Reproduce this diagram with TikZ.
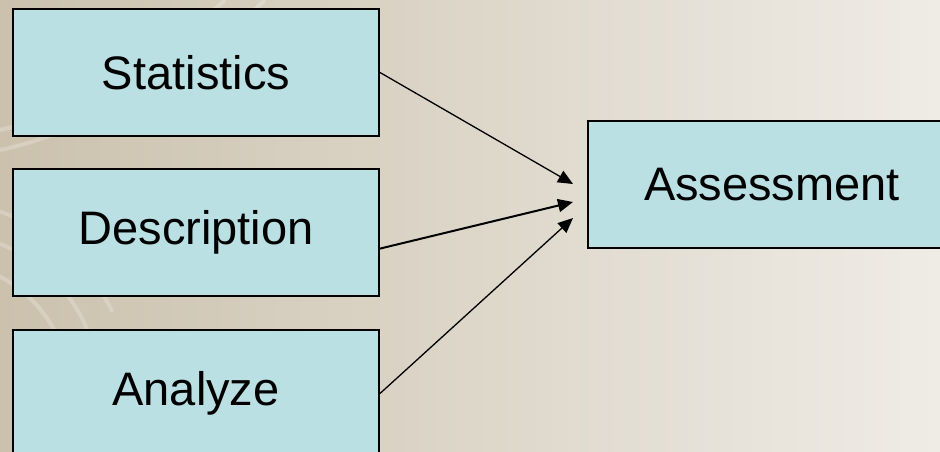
\documentclass[tikz,border=0pt]{standalone}
\usepackage{fontspec}
\setmainfont{Liberation Sans}
\usetikzlibrary{positioning,arrows.meta}

\definecolor{boxfill}{RGB}{186,224,228}
\definecolor{bgleft}{RGB}{203,193,173}
\definecolor{bgright}{RGB}{239,236,230}

\tikzset{
	box/.style={draw=black, line width=2pt, fill=boxfill, rectangle,
		minimum width=366pt, minimum height=127pt, inner sep=0pt,
		font=\fontsize{47}{56}\selectfont},
	link/.style={-{Triangle[length=15pt,width=13pt]}, line width=1.3pt},
	swirl/.style={white, opacity=0.22, line width=4pt}
}

\begin{document}
\begin{tikzpicture}[x=1pt, y=1pt]
			% background
			\shade[left color=bgleft, right color=bgright] (0,0) rectangle (940,452);
			\useasboundingbox (0,0) rectangle (940,452);
			\draw[swirl] (0,302) .. controls (90,320) and (200,390) .. (265,452);
			\draw[swirl] (0,322) .. controls (80,340) and (170,400) .. (225,452);
			\draw[swirl] (-60,60) ++(25:190) arc[start angle=25, end angle=75, radius=190];
			\draw[swirl] (-60,60) ++(20:160) arc[start angle=20, end angle=80, radius=160];
			\draw[swirl] (-60,60) ++(15:130) arc[start angle=15, end angle=85, radius=130];
			
			\node[box] (stat) at (196,379.5) {Statistics};
			\node[box] (desc) at (196,219.5) {Description};
			\node[box] (ana) at (196,58.5) {Analyze};
			\node[box, minimum width=368pt] (assess) at (772,267.5) {Assessment};
			
			\coordinate (in1) at (573,268);
			\coordinate (in2) at (573,250);
			\coordinate (in3) at (573,234);
			
			\draw[link] (stat.east) -- (in1);
			\draw[link, line width=2pt] (desc.355) -- (in2);
			\draw[link] (ana.east) -- (in3);
		\end{tikzpicture}
\end{document}
